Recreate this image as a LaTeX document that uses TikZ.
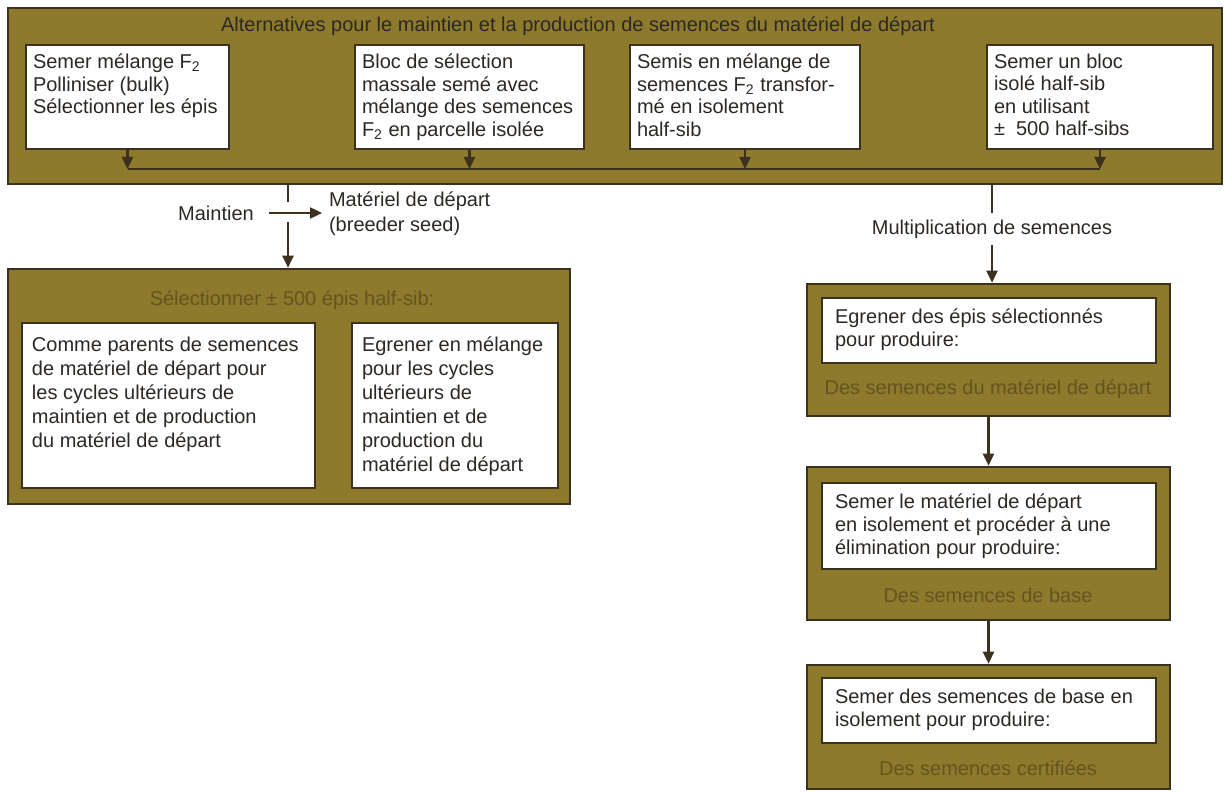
\documentclass[tikz,border=0pt]{standalone}
\usepackage{fontspec}
\setmainfont{Liberation Sans}
\usetikzlibrary{arrows.meta}
\definecolor{bandfill}{RGB}{141,122,44}
\definecolor{bandedge}{RGB}{60,48,30}
\definecolor{fadetext}{RGB}{100,84,32}
\definecolor{ink}{RGB}{44,40,36}
\newcommand{\boxpar}[3]{\parbox[c][#2][t]{#1}{\raggedright #3}}

\begin{document}
\begin{tikzpicture}[x=0.5pt,y=-0.5pt,
    band/.style={draw=bandedge,fill=bandfill,line width=1.3pt,inner sep=0pt},
    wbox/.style={draw=bandedge,fill=white,line width=0.6pt,inner xsep=3.5pt,inner ysep=4.5pt,text=ink,font=\fontsize{10}{11.25}\selectfont},
    lowbox/.style={wbox,inner xsep=5pt,inner ysep=7pt,font=\fontsize{10}{12}\selectfont},
    seedbox/.style={wbox,inner xsep=6.5pt,inner ysep=5.5pt,font=\fontsize{10}{11.5}\selectfont},
    lbl/.style={text=ink,font=\fontsize{10}{12.5}\selectfont,align=left},
    fade/.style={text=fadetext,font=\fontsize{10}{12}\selectfont},
    conn/.style={draw=bandedge,line width=1.2pt},
    arr/.style={conn,-{Triangle[length=6pt,width=5.5pt]}}]
    \useasboundingbox (0,0) rectangle (1226,792);

    \node[band,minimum width=607pt,minimum height=88pt] (alt) at (615,96) {};
    \node[lbl] (alttitle) at (578,26) {Alternatives pour le maintien et la production de semences du matériel de départ};
    \node[wbox] (alt1) at (127.5,97) {\boxpar{94.5pt}{43pt}{Semer mélange F\textsubscript{2}\\Polliniser (bulk)\\Sélectionner les épis}};
    \node[wbox] (alt2) at (469.5,97) {\boxpar{107.5pt}{43pt}{Bloc de sélection\\massale semé avec\\mélange des semences\\F\textsubscript{2} en parcelle isolée}};
    \node[wbox] (alt3) at (745,97) {\boxpar{108pt}{43pt}{Semis en mélange de\\semences F\textsubscript{2} transfor-\\mé en isolement\\half-sib}};
    \node[wbox] (alt4) at (1100,97) {\boxpar{106pt}{43pt}{Semer un bloc\\isolé half-sib\\en utilisant\\±~~500 half-sibs}};
    \coordinate (jl) at (0,169);

    \node[lbl] (maint) at (216,213) {Maintien};
    \node[lbl,anchor=west] (mat) at (322,214) {Matériel de départ\\(breeder seed)};
    \coordinate (gapA) at (288,202);
    \coordinate (gapB) at (288,222);
    \node[lbl] (multi) at (992,229) {Multiplication de semences};

    \node[band,minimum width=281pt,minimum height=117.5pt] (sel) at (289,386.5) {};
    \node[fade] (seltitle) at (292,300) {Sélectionner ± 500 épis half-sib:};
    \node[lowbox] (selA) at (168.5,405.5) {\boxpar{136.5pt}{68.5pt}{Comme parents de semences\\de matériel de départ pour\\les cycles ultérieurs de\\maintien et de production\\du matériel de départ}};
    \node[lowbox] (selB) at (455,405.5) {\boxpar{93pt}{68.5pt}{Egrener en mélange\\pour les cycles\\ultérieurs de\\maintien et de\\production du\\matériel de départ}};

    \node[band,minimum width=181.5pt,minimum height=66pt] (mult1) at (988.5,350) {};
    \node[seedbox] (seed1) at (989,330.5) {\boxpar{154pt}{21.5pt}{Egrener des épis sélectionnés\\pour produire:}};
    \node[fade] (cap1) at (988,389) {Des semences du matériel de départ};
    \node[band,minimum width=181.5pt,minimum height=76.5pt] (mult2) at (988.5,543.5) {};
    \node[seedbox] (seed2) at (989,526) {\boxpar{154pt}{32pt}{Semer le matériel de départ\\en isolement et procéder à une\\élimination pour produire:}};
    \node[fade] (cap2) at (988,595) {Des semences de base};
    \node[band,minimum width=181.5pt,minimum height=62pt] (mult3) at (988.5,727) {};
    \node[seedbox] (seed3) at (989,710.5) {\boxpar{154pt}{21.5pt}{Semer des semences de base en\\isolement pour produire:}};
    \node[fade] (cap3) at (988,768) {Des semences certifiées};

    \foreach \b in {alt1,alt2,alt3,alt4}
        \draw[arr] (\b.south) -- (\b.south |- jl);
    \draw[conn] (alt1.south |- jl) -- (alt4.south |- jl);
    \draw[conn] (gapA |- alt.south) -- (gapA);
    \draw[arr] (gapB) -- (gapB |- sel.north);
    \draw[arr,shorten <=4pt] (maint.east) -- (maint.east -| mat.west);
    \draw[conn] (multi.north |- alt.south) -- (multi.north);
    \draw[arr] (multi.south) -- (multi.south |- mult1.north);
    \draw[arr] (mult1.south) -- (mult2.north);
    \draw[arr] (mult2.south) -- (mult3.north);
\end{tikzpicture}
\end{document}
